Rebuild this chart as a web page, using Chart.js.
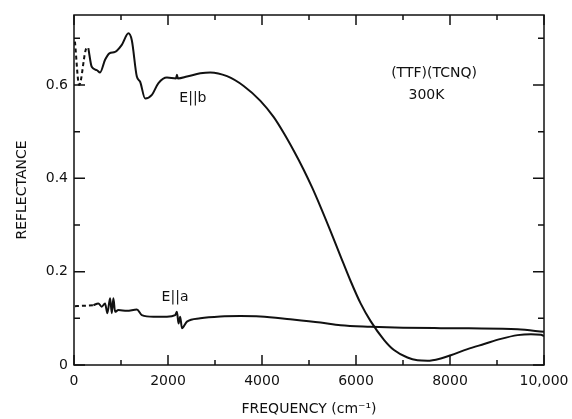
<!DOCTYPE html>
<html>
<head>
<meta charset="utf-8">
<script src="https://cdn.jsdelivr.net/npm/chart.js@4.4.1/dist/chart.umd.min.js"></script>
<style>
  html, body { margin: 0; padding: 0; background: #fff; }
  #wrap { width: 572px; height: 419px; }
</style>
</head>
<body>
<div id="wrap"><canvas id="chart" width="572" height="419"></canvas></div>
<script>
// =========================
//  DATA
// =========================

// E||b, dashed low-frequency extrapolation
const ebDashX = [20, 110, 270, 305];
const ebDashY = [0.693, 0.600, 0.679, 0.679];

// E||b, measured
const ebX = [305, 377, 484, 554, 661, 753, 874, 1017, 1158, 1230, 1337, 1407, 1514, 1657,
  1797, 1977, 2170, 2190, 2210, 2403, 2687, 2900, 3256, 3610, 3966, 4250, 4463,
  4676, 4889, 5068, 5245, 5458, 5672, 5885, 6098, 6311, 6595, 6808, 7094, 7307,
  7520, 7804, 8017, 8373, 8727, 9083, 9439, 9723, 9936, 10000];
const ebY = [0.679, 0.639, 0.632, 0.627, 0.654, 0.668, 0.671, 0.686, 0.711, 0.696, 0.618, 0.607, 0.571, 0.579,
  0.604, 0.616, 0.614, 0.622, 0.614, 0.618, 0.625, 0.627, 0.619, 0.598, 0.566, 0.531, 0.497,
  0.459, 0.418, 0.380, 0.339, 0.287, 0.233, 0.180, 0.132, 0.094, 0.054, 0.032, 0.016, 0.010,
  0.009, 0.014, 0.021, 0.034, 0.045, 0.056, 0.064, 0.066, 0.065, 0.062];

// E||a, dashed
const eaDashX = [20, 412];
const eaDashY = [0.126, 0.128];

// E||a, measured
const eaX = [412, 518, 590, 661, 710, 768, 804, 838, 874, 945, 1124, 1337, 1443, 1691, 1977,
  2154, 2190, 2224, 2260, 2296, 2403, 2687, 3113, 3539, 3966, 4600, 5245, 5672, 6311, 7000,
  7804, 8400, 9439, 10000];
const eaY = [0.128, 0.132, 0.125, 0.132, 0.111, 0.143, 0.111, 0.143, 0.114, 0.118, 0.116, 0.119, 0.107, 0.1035, 0.1035,
  0.107, 0.114, 0.089, 0.1035, 0.079, 0.093, 0.100, 0.104, 0.105, 0.104, 0.098, 0.091, 0.085, 0.082, 0.080,
  0.079, 0.0786, 0.0765, 0.071];

// axis ranges and ticks
const X_MIN = 0, X_MAX = 10000;
const Y_MIN = 0, Y_MAX = 0.75;
const xMajor = [0, 2000, 4000, 6000, 8000, 10000];
const xMinor = [1000, 3000, 5000, 7000, 9000];
const yMajor = [0, 0.2, 0.4, 0.6];
const yMinor = [0.1, 0.3, 0.5, 0.7];

// text labels placed in data coordinates
const notes = [
  { text: "E||b", x: 2530, y: 0.571 },
  { text: "E||a", x: 2150, y: 0.146 },
  { text: "(TTF)(TCNQ)", x: 7660, y: 0.626 },
  { text: "300K", x: 7500, y: 0.578 }
];

// =========================
//  HELPERS
// =========================

const FONT = "'DejaVu Sans', sans-serif";
const INK = "#111";

function pts(xs, ys) {
  return xs.map((x, i) => ({ x: x, y: ys[i] }));
}

function lineSet(xs, ys, dashed) {
  return {
    data: pts(xs, ys),
    borderColor: INK,
    borderWidth: 2,
    borderDash: dashed ? [4, 3] : [],
    pointRadius: 0,
    cubicInterpolationMode: "monotone",
    fill: false
  };
}

// frame + inward ticks on all four sides, placed through the scales
const framePlugin = {
  id: "frame",
  afterDatasetsDraw(chart) {
    const { ctx, chartArea: a, scales } = chart;
    const xs = scales.x, ys = scales.y;
    ctx.save();
    ctx.strokeStyle = INK;
    ctx.lineWidth = 1.5;
    ctx.strokeRect(a.left, a.top, a.right - a.left, a.bottom - a.top);
    ctx.beginPath();
    const xt = (v, len) => {
      const p = xs.getPixelForValue(v);
      ctx.moveTo(p, a.bottom); ctx.lineTo(p, a.bottom - len);
      ctx.moveTo(p, a.top); ctx.lineTo(p, a.top + len);
    };
    const yt = (v, len) => {
      const p = ys.getPixelForValue(v);
      ctx.moveTo(a.left, p); ctx.lineTo(a.left + len, p);
      ctx.moveTo(a.right, p); ctx.lineTo(a.right - len, p);
    };
    xMajor.forEach(v => xt(v, 10));
    xMinor.forEach(v => xt(v, 5));
    yMajor.forEach(v => yt(v, 11));
    yMinor.forEach(v => yt(v, 6));
    ctx.stroke();

    // annotations
    ctx.fillStyle = INK;
    ctx.font = "14px " + FONT;
    ctx.textAlign = "center";
    ctx.textBaseline = "middle";
    notes.forEach(n => {
      ctx.fillText(n.text, xs.getPixelForValue(n.x), ys.getPixelForValue(n.y));
    });
    ctx.restore();
  }
};

// =========================
//  CHART
// =========================

new Chart(document.getElementById("chart"), {
  type: "line",
  data: {
    datasets: [
      lineSet(ebDashX, ebDashY, true),
      lineSet(ebX, ebY, false),
      lineSet(eaDashX, eaDashY, true),
      lineSet(eaX, eaY, false)
    ]
  },
  options: {
    responsive: false,
    animation: false,
    devicePixelRatio: 1,
    layout: { padding: { top: 15, right: 0, left: 0, bottom: 0 } },
    plugins: { legend: { display: false }, tooltip: { enabled: false } },
    scales: {
      x: {
        type: "linear",
        min: X_MIN, max: X_MAX,
        grid: { display: false, drawTicks: false },
        border: { display: false },
        afterFit: s => { s.height = 54; s.paddingRight = 28; s.paddingLeft = 0; },
        ticks: {
          stepSize: 2000,
          maxRotation: 0,
          padding: 8,
          color: INK,
          font: { family: FONT, size: 14 },
          callback: v => (v === 10000 ? "10,000" : String(v))
        },
        title: {
          display: true,
          text: "FREQUENCY (cm\u207B\u00B9)",
          color: INK,
          font: { family: FONT, size: 14 },
          padding: { top: 0, bottom: 1 }
        }
      },
      y: {
        min: Y_MIN, max: Y_MAX,
        grid: { display: false, drawTicks: false },
        border: { display: false },
        afterFit: s => { s.width = 74; },
        ticks: {
          stepSize: 0.2,
          includeBounds: false,
          padding: 6,
          color: INK,
          font: { family: FONT, size: 14 },
          callback: v => (Math.abs(v) < 1e-9 ? "0" : v.toFixed(1))
        },
        title: {
          display: true,
          text: "REFLECTANCE",
          color: INK,
          font: { family: FONT, size: 14 },
          padding: { top: 14, bottom: 0 }
        }
      }
    }
  },
  plugins: [framePlugin]
});
</script>
</body>
</html>
